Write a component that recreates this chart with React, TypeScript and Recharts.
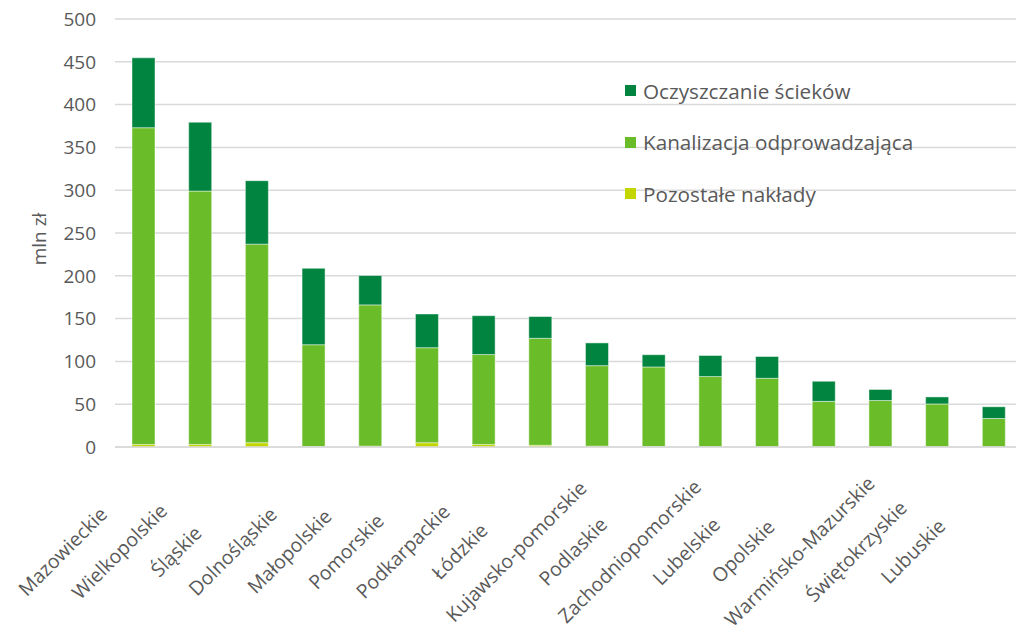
import React from "react";
import {BarChart, Bar, XAxis, YAxis, CartesianGrid} from "recharts";

const categories = [
    "Mazowieckie", "Wielkopolskie", "Śląskie", "Dolnośląskie", "Małopolskie", "Pomorskie",
    "Podkarpackie", "Łódzkie", "Kujawsko-pomorskie", "Podlaskie", "Zachodniopomorskie",
    "Lubelskie", "Opolskie", "Warmińsko-Mazurskie", "Świętokrzyskie", "Lubuskie",
];
const pozostale = [3, 3, 5, 0.5, 1, 5, 3, 2, 1, 0.5, 0.3, 0.3, 0.3, 0.3, 0.3, 0.3];
const kanalizacja = [370, 296, 232, 119, 165, 111, 105, 125, 94, 93, 82, 80, 53, 54, 50, 33];
const oczyszczanie = [81.6, 80.4, 74.1, 89.2, 34.3, 39.4, 45.4, 25.4, 26.6, 14.3, 24.6, 25.4, 23.5, 12.9, 8.2, 13.7];
const yTicks = [0, 50, 100, 150, 200, 250, 300, 350, 400, 450, 500];

const FONT = "'Open Sans', sans-serif";
const TEXT = "#595959";

// bottom to top in the stack
const SERIES = [
    {key: "pozostale", name: "Pozostałe nakłady", color: "#C3D600"},
    {key: "kanalizacja", name: "Kanalizacja odprowadzająca", color: "#6ABD28"},
    {key: "oczyszczanie", name: "Oczyszczanie ścieków", color: "#00843F"},
];

const data = categories.map((name, i) => ({
    name,
    pozostale: pozostale[i],
    kanalizacja: kanalizacja[i],
    oczyszczanie: oczyszczanie[i],
}));

const XTick = (props: any) => {
    const {x, y, payload} = props;
    return (
        <g transform={`translate(${x - 81},${y + 104})`}>
            <text x={0} y={0} textAnchor="middle" dominantBaseline="central" transform="rotate(-45)"
                  fill={TEXT} style={{fontFamily: FONT, fontSize: 19.5}}>
                {payload.value}
            </text>
        </g>
    );
};

// legend sits over the plot, so it is drawn outside recharts' layout
const LegendBox = () => (
    <div style={{position: "absolute", left: 625, top: 65, fontFamily: FONT, fontSize: 20.7, color: TEXT}}>
        {SERIES.slice().reverse().map((s) => (
            <div key={s.key} style={{display: "flex", alignItems: "center", height: 51.5}}>
                <span style={{width: 11, height: 11, background: s.color, marginRight: 7}}/>
                <span>{s.name}</span>
            </div>
        ))}
    </div>
);

export default function App() {
    return (
        <div style={{position: "absolute", left: 0, top: 0, width: 1016, height: 634, overflow: "hidden", background: "#fff"}}>
            <BarChart width={1024} height={634} data={data} margin={{top: 19, right: 2, bottom: 0, left: 0}}>
                <CartesianGrid vertical={false} stroke="#D9D9D9" strokeWidth={1.5}/>
                <XAxis dataKey="name" interval={0} height={187} tickLine={false} tickSize={0} tickMargin={0}
                       axisLine={{stroke: "#D9D9D9", strokeWidth: 1.5}} tick={<XTick/>}/>
                <YAxis domain={[0, 500]} ticks={yTicks} width={115} axisLine={false} tickLine={false}
                       tickSize={6} tickMargin={13}
                       tick={{fill: TEXT, fontFamily: FONT, fontSize: 19}}
                       label={{value: "mln zł", angle: -90, position: "insideLeft", offset: 39, dy: 6,
                           style: {fill: TEXT, fontFamily: FONT, fontSize: 19, textAnchor: "middle"}}}/>
                {SERIES.map((s) => (
                    <Bar key={s.key} dataKey={s.key} name={s.name} stackId="a" fill={s.color} barSize={23}
                         stroke="#ffffff" strokeOpacity={0.45} strokeWidth={1} isAnimationActive={false}/>
                ))}
            </BarChart>
            <LegendBox/>
        </div>
    );
}
